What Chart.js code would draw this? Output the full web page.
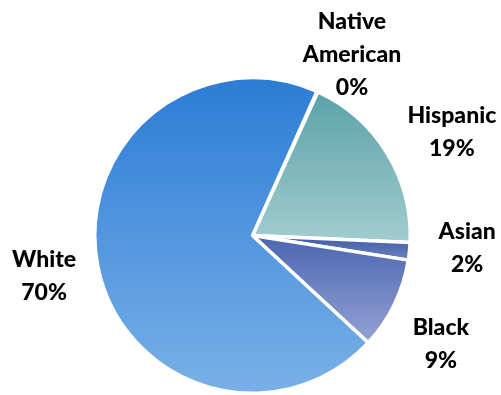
<!DOCTYPE html>
<html>
<head>
<meta charset="utf-8">
<script src="https://cdn.jsdelivr.net/npm/chart.js@4"></script>
<style>
  html, body { margin: 0; padding: 0; background: #fff; }
  #wrap { width: 501px; height: 395px; }
</style>
</head>
<body>
<div id="wrap"><canvas id="pie" width="501" height="395"></canvas></div>
<script>
const groups = ["Native American", "Hispanic", "Asian", "Black", "White"];
const shares = [0.1, 18.9, 1.8, 9.4, 69.8];
const shownPct = ["0%", "19%", "2%", "9%", "70%"];

// top / bottom colour of each slice's vertical gradient
const topColors = ["#3A7FA0", "#5AA2A8", "#3E5AA5", "#4B65B0", "#2B7CD5"];
const bottomColors = ["#6FA9B8", "#A2CCD0", "#6C82BE", "#94A3D4", "#7AB0E8"];

// label nudges (px) after placing on the slice's mid angle
const labelNudge = [[12, 13], [18, 8], [3, -9], [-3, 16], [0, -2]];

const ROTATION = 24.1;

const total = shares.reduce((a, b) => a + b, 0);

// vertical extent of a slice, used for its gradient
const sliceYRange = (i, cx, cy, r) => {
  let start = (ROTATION - 90) * Math.PI / 180;
  for (let k = 0; k < i; k++) start += shares[k] / total * 2 * Math.PI;
  const end = start + shares[i] / total * 2 * Math.PI;
  const ys = [cy, cy + r * Math.sin(start), cy + r * Math.sin(end)];
  for (let t = -4; t <= 4; t++) {
    const a = Math.PI / 2 + t * Math.PI;
    if (a >= start && a <= end) ys.push(cy + r * Math.sin(a));
  }
  return [Math.min(...ys), Math.max(...ys)];
};

const sliceFill = (ctx) => {
  const chart = ctx.chart;
  const area = chart.chartArea;
  if (!area) return topColors[ctx.dataIndex];
  const cx = (area.left + area.right) / 2;
  const cy = (area.top + area.bottom) / 2;
  const r = Math.min(area.width, area.height) / 2;
  const [y0, y1] = sliceYRange(ctx.dataIndex, cx, cy, r);
  const g = chart.ctx.createLinearGradient(0, y0, 0, Math.max(y1, y0 + 1));
  g.addColorStop(0, topColors[ctx.dataIndex]);
  g.addColorStop(1, bottomColors[ctx.dataIndex]);
  return g;
};

const outsideLabels = {
  id: "outsideLabels",
  afterDatasetsDraw(chart) {
    const c = chart.ctx;
    const arcs = chart.getDatasetMeta(0).data;
    c.save();
    c.font = "900 23px Lato, sans-serif";
    c.fillStyle = "#000";
    c.textAlign = "center";
    c.textBaseline = "middle";
    arcs.forEach((arc, i) => {
      const mid = (arc.startAngle + arc.endAngle) / 2;
      const d = arc.outerRadius + 55;
      const x = arc.x + d * Math.cos(mid) + labelNudge[i][0];
      const y = arc.y + d * Math.sin(mid) + labelNudge[i][1];
      const lines = groups[i].split(" ").concat([shownPct[i]]);
      const lh = 33;
      const y0 = y - (lines.length - 1) * lh / 2;
      lines.forEach((ln, j) => c.fillText(ln, x, y0 + j * lh));
    });
    c.restore();
  },
};

new Chart(document.getElementById("pie").getContext("2d"), {
  type: "pie",
  data: {
    labels: groups,
    datasets: [
      {
        data: shares,
        backgroundColor: sliceFill,
        borderColor: "#ffffff",
        borderWidth: 3.5,
      },
    ],
  },
  options: {
    responsive: false,
    animation: false,
    rotation: ROTATION,
    layout: { padding: { top: 76, bottom: 0, left: 93, right: 89 } },
    plugins: {
      legend: { display: false },
      tooltip: { enabled: false },
    },
  },
  plugins: [outsideLabels],
});
</script>
</body>
</html>
